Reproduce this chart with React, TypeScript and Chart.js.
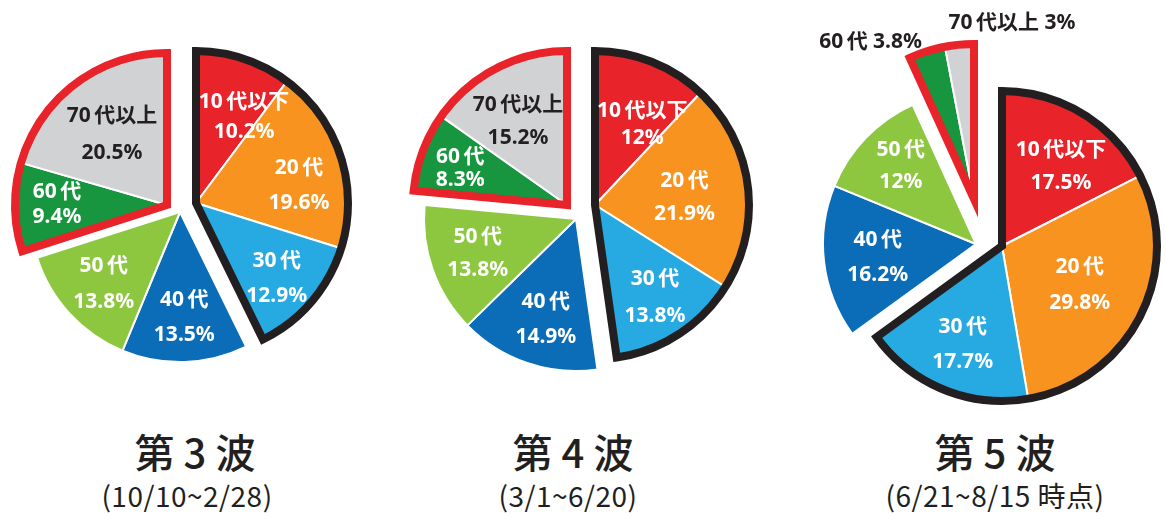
import React, { useEffect, useRef } from 'react';
import { Chart, registerables } from 'chart.js';

Chart.register(...registerables);

// ---------- data ----------
const ageGroups = ['10代以下', '20代', '30代', '40代', '50代', '60代', '70代以上'];
const wave3Values = [10.2, 19.6, 12.9, 13.5, 13.8, 9.4, 20.5];
const wave4Values = [12, 21.9, 13.8, 14.9, 13.8, 8.3, 15.2];
const wave5Values = [17.5, 29.8, 17.7, 16.2, 12, 3.8, 3];
const waveTitles = ['第 3 波', '第 4 波', '第 5 波'];
const wavePeriods = ['(10/10~2/28)', '(3/1~6/20)', '(6/21~8/15 時点)'];
const youngGroup = [0, 1, 2];
const seniorGroup = [5, 6];

// ---------- styles ----------
const sliceColors = ['#E8232A', '#F7931E', '#27A9E1', '#0B6DB7', '#8DC63F', '#17963F', '#D1D2D4'];
const labelColors = ['#FFFFFF', '#FFFFFF', '#FFFFFF', '#FFFFFF', '#FFFFFF', '#FFFFFF', '#231F20'];
const DARK = '#231F20';
const RED = '#E8232A';
const waveValues = [wave3Values, wave4Values, wave5Values];

type Layout = {
  left: number; top: number; width: number; height: number;
  cx: number; cy: number; r: number;
  youngShift: [number, number]; seniorShift: [number, number];
  nudges: [number, number][]; gaps: number[]; outside: number[];
  titleX: number; periodX: number;
};

const layouts: Layout[] = [
  {
    left: 0, top: 0, width: 380, height: 420, cx: 180, cy: 212, r: 150,
    youngShift: [16, -9], seniorShift: [-13, -7],
    nudges: [[15, 14], [3, 15], [1, 7], [1, 1], [1, 1], [-5, -2], [8, 13]],
    gaps: [30, 35, 35, 35, 36, 25, 37], outside: [],
    titleX: 195, periodX: 187,
  },
  {
    left: 385, top: 0, width: 380, height: 420, cx: 576, cy: 219, r: 152,
    youngShift: [19, -14], seniorShift: [-9, -14],
    nudges: [[8, 18], [-16, 6], [2, 3], [4, 0], [2, -1], [-7, 0], [0, 11]],
    gaps: [27, 33, 37, 35, 33, 23, 33], outside: [],
    titleX: 573, periodX: 568,
  },
  {
    left: 780, top: 0, width: 386, height: 420, cx: 976, cy: 244, r: 153,
    youngShift: [26, 2], seniorShift: [-2, -45],
    nudges: [[3, 12], [-18, -9], [1, -1], [8, 1], [2, -4], [-71, -55], [48, -69]],
    gaps: [33, 36, 35, 35, 32, 0, 0], outside: [5, 6],
    titleX: 995, periodX: 995,
  },
];

const LABEL_FONT = 'bold 21px "Noto Sans", "Noto Sans CJK JP", sans-serif';
const spaced = (s: string) => s.replace(/^(\d+)/, '$1\u2009');

function makePlugin(L: Layout) {
  const shiftFor = (i: number): [number, number] => {
    if (youngGroup.includes(i)) return L.youngShift;
    if (seniorGroup.includes(i)) return L.seniorShift;
    return [0, 0];
  };
  return {
    id: 'wavePlugin',
    beforeDatasetsDraw(chart: any) {
      const meta = chart.getDatasetMeta(0);
      const ca = chart.chartArea;
      const cx = (ca.left + ca.right) / 2;
      const cy = (ca.top + ca.bottom) / 2;
      meta.data.forEach((arc: any, i: number) => {
        const s = shiftFor(i);
        arc.x = cx + s[0];
        arc.y = cy + s[1];
      });
    },
    afterDatasetsDraw(chart: any) {
      const ctx: CanvasRenderingContext2D = chart.ctx;
      const meta = chart.getDatasetMeta(0);
      const arcs = meta.data;
      const groups = [
        { members: youngGroup, color: DARK },
        { members: seniorGroup, color: RED },
      ];
      for (const g of groups) {
        const first = arcs[g.members[0]];
        const last = arcs[g.members[g.members.length - 1]];
        const x = first.x, y = first.y, r = first.outerRadius + 2;
        ctx.save();
        ctx.beginPath();
        ctx.moveTo(x, y);
        ctx.arc(x, y, r, first.startAngle, last.endAngle);
        ctx.closePath();
        ctx.lineWidth = 8;
        ctx.lineJoin = 'miter';
        ctx.strokeStyle = g.color;
        ctx.stroke();
        ctx.restore();
      }
      // labels
      const values = chart.data.datasets[0].data as number[];
      ctx.save();
      ctx.font = LABEL_FONT;
      ctx.textAlign = 'center';
      ctx.textBaseline = 'middle';
      arcs.forEach((arc: any, i: number) => {
        const mid = (arc.startAngle + arc.endAngle) / 2;
        const d = arc.outerRadius * 0.7;
        const n = L.nudges[i] || [0, 0];
        const px = arc.x + Math.cos(mid) * d + n[0];
        const py = arc.y + Math.sin(mid) * d + n[1];
        const name = spaced(chart.data.labels[i]);
        const val = `${values[i]}%`;
        if (L.outside.includes(i)) {
          ctx.fillStyle = DARK;
          ctx.fillText(`${name} ${val}`, px, py);
        } else {
          ctx.fillStyle = labelColors[i];
          const gap = L.gaps[i];
          ctx.fillText(name, px, py - gap / 2);
          ctx.fillText(val, px, py + gap / 2);
        }
      });
      ctx.restore();
    },
  };
}

function WavePie({ idx }: { idx: number }) {
  const ref = useRef<HTMLCanvasElement | null>(null);
  const L = layouts[idx];
  useEffect(() => {
    if (!ref.current) return;
    const localCx = L.cx - L.left;
    const localCy = L.cy - L.top;
    const dx = 2 * localCx - L.width;
    const dy = 2 * localCy - L.height;
    const chart = new Chart(ref.current, {
      type: 'pie',
      data: {
        labels: ageGroups,
        datasets: [
          {
            data: waveValues[idx],
            backgroundColor: sliceColors,
            borderColor: '#FFFFFF',
            borderWidth: 2,
            radius: L.r,
          } as any,
        ],
      },
      options: {
        responsive: false,
        maintainAspectRatio: false,
        animation: false,
        events: [],
        layout: {
          padding: {
            left: Math.max(0, dx),
            right: Math.max(0, -dx),
            top: Math.max(0, dy),
            bottom: Math.max(0, -dy),
          },
        },
        plugins: {
          legend: { display: false },
          tooltip: { enabled: false },
        },
      },
      plugins: [makePlugin(L)],
    });
    return () => chart.destroy();
  }, []);
  return (
    <canvas
      ref={ref}
      width={L.width}
      height={L.height}
      style={{ position: 'absolute', left: L.left, top: L.top, width: L.width, height: L.height }}
    />
  );
}

export default function App() {
  return (
    <div
      style={{
        position: 'absolute',
        left: 0,
        top: 0,
        width: 1166,
        height: 517,
        background: '#FFFFFF',
        overflow: 'hidden',
      }}
    >
      {layouts.map((L, i) => (
        <React.Fragment key={i}>
          <WavePie idx={i} />
          <div
            style={{
              position: 'absolute',
              left: L.titleX,
              top: 451,
              transform: 'translate(-50%, -50%)',
              fontFamily: '"Noto Sans CJK JP", sans-serif',
              fontSize: 40,
              fontWeight: 500,
              color: '#231F20',
              whiteSpace: 'nowrap',
              lineHeight: 1,
            }}
          >
            {waveTitles[i]}
          </div>
          <div
            style={{
              position: 'absolute',
              left: L.periodX,
              top: 495,
              transform: 'translate(-50%, -50%)',
              fontFamily: '"Noto Sans CJK JP", sans-serif',
              fontSize: 28,
              fontWeight: 400,
              letterSpacing: 0.5,
              color: '#231F20',
              whiteSpace: 'nowrap',
              lineHeight: 1,
            }}
          >
            {wavePeriods[i]}
          </div>
        </React.Fragment>
      ))}
    </div>
  );
}
